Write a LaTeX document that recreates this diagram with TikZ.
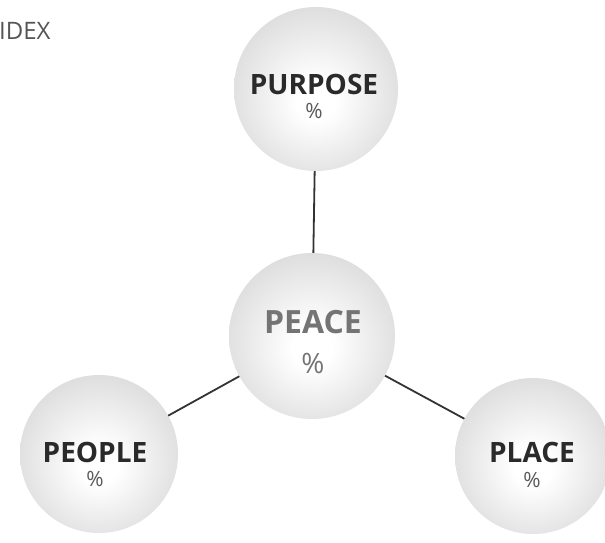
\documentclass[tikz,border=0pt]{standalone}
\usepackage{fontspec}
\setmainfont{Open Sans}
\pgfdeclareradialshading{ballshade}{\pgfpoint{0bp}{-4bp}}{%
  color(0bp)=(white);
  color(6bp)=(white);
  color(40bp)=(black!21);
  color(46bp)=(black!24);
  color(47bp)=(black!12);
  color(50bp)=(black!12)}
\definecolor{labeldark}{HTML}{2A2A2A}
\definecolor{labelgray}{HTML}{747474}
\definecolor{pctgray}{HTML}{5A5A5A}
\definecolor{titlegray}{HTML}{555555}
\definecolor{linkgray}{HTML}{333333}
\begin{document}
\begin{tikzpicture}[x=1pt,y=-1pt,
  ball/.style={circle, shading=ballshade, draw=none, inner sep=0pt},
  link/.style={draw=linkgray, line width=1.8pt},
  biglabel/.style={font=\fontsize{28}{32}\selectfont\bfseries, text=labeldark, inner sep=0pt, text depth=0pt},
  pct/.style={font=\fontsize{21}{24}\selectfont, text=pctgray, inner sep=0pt}]
\useasboundingbox (0,0) rectangle (605,542);
\fill[white] (0,0) rectangle (605,542);
% coordinates of centres
\coordinate (cPurpose) at (316,89);
\coordinate (cPeace) at (312,336);
\coordinate (cPeople) at (99,454);
\coordinate (cPlace) at (533,456);
% connectors
\draw[link] (cPeace) -- (cPurpose);
\draw[link] (cPeace) -- (cPeople);
\draw[link] (cPeace) -- (cPlace);
% circles
\node[ball, minimum size=164pt] (purpose) at (cPurpose) {};
\node[ball, minimum size=166pt] (peace) at (cPeace) {};
\node[ball, minimum size=158pt] (people) at (cPeople) {};
\node[ball, minimum size=156pt] (place) at (cPlace) {};
% labels
\node[biglabel] (tPurpose) at (314,84) {PURPOSE};
\node[pct] (pPurpose) at (314,111) {\%};
\node[biglabel, text=labelgray, font=\fontsize{32}{36}\selectfont\bfseries] (tPeace) at (313,322) {PEACE};
\node[pct, text=labelgray, font=\fontsize{28}{32}\selectfont] (pPeace) at (313,363) {\%};
\node[biglabel] (tPeople) at (95,452) {PEOPLE};
\node[pct] (pPeople) at (95,479) {\%};
\node[biglabel] (tPlace) at (532,452) {PLACE};
\node[pct] (pPlace) at (532,480) {\%};
% title
\node[anchor=base west, inner sep=0pt, font=\fontsize{24}{28}\selectfont, text=titlegray] (title) at (-1,39) {IDEX};
\end{tikzpicture}
\end{document}
